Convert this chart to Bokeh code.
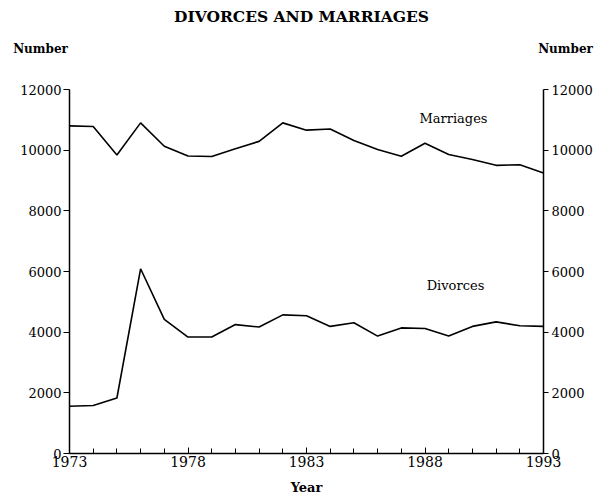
from bokeh.plotting import figure
from bokeh.models import Range1d, LinearAxis, FixedTicker, Label
from bokeh.embed import file_html
from bokeh.resources import INLINE

years = list(range(1973, 1994))
marriages = [10800, 10780, 9840, 10900, 10130, 9810, 9790, 10050, 10290, 10900,
             10660, 10700, 10320, 10020, 9800, 10230, 9860, 9690, 9500, 9520, 9250]
divorces = [1560, 1580, 1830, 6090, 4420, 3840, 3840, 4250, 4170, 4570,
            4540, 4190, 4310, 3870, 4140, 4120, 3870, 4190, 4340, 4210, 4190]
x_major = [1973, 1978, 1983, 1988, 1993]
y_major = [0, 2000, 4000, 6000, 8000, 10000, 12000]

FONT = "DejaVu Serif"
W, H = 595, 495
# pixel positions of the data box corners
PX0, PX1 = 69, 543      # x of 1973, 1993
PY0, PY1 = 453, 89      # y of 0, 12000

xs = (PX1 - PX0) / (x_major[-1] - x_major[0])
ys = (PY0 - PY1) / (y_major[-1] - y_major[0])
x_start = x_major[0] - PX0 / xs
x_end = x_major[-1] + (W - PX1) / xs
y_start = y_major[0] - (H - PY0) / ys
y_end = y_major[-1] + PY1 / ys

def dx(px):
    return x_start + px / xs

def dy(py):
    return y_end - py / ys

p = figure(width=W, height=H, output_backend="svg", toolbar_location=None,
           x_range=Range1d(x_start, x_end), y_range=Range1d(y_start, y_end),
           min_border=0, x_axis_location=None, y_axis_location=None)
p.outline_line_color = None
p.grid.visible = False

p.line(years, marriages, line_color="black", line_width=1.6)
p.line(years, divorces, line_color="black", line_width=1.6)

def style(ax, size):
    ax.axis_line_width = 1.5
    ax.axis_line_color = "black"
    ax.major_tick_line_color = "black"
    ax.minor_tick_line_color = "black"
    ax.major_label_text_font = FONT
    ax.major_label_text_font_size = size
    ax.major_label_text_color = "black"

xa = LinearAxis(ticker=FixedTicker(ticks=x_major, minor_ticks=years),
                fixed_location=0, bounds=(x_major[0], x_major[-1]))
style(xa, "14px")
xa.major_tick_in = 6
xa.major_tick_out = 0
xa.minor_tick_in = 5
xa.minor_tick_out = 0
xa.major_label_standoff = 2
p.add_layout(xa, "below")

ya = LinearAxis(ticker=FixedTicker(ticks=y_major), fixed_location=x_major[0],
                bounds=(y_major[0], y_major[-1]))
style(ya, "13px")
ya.major_tick_in = 0
ya.major_tick_out = 6
ya.minor_tick_in = 0
ya.minor_tick_out = 0
ya.major_label_standoff = 2
p.add_layout(ya, "left")

ra = LinearAxis(ticker=FixedTicker(ticks=y_major), fixed_location=x_major[-1],
                bounds=(y_major[0], y_major[-1]))
style(ra, "13px")
ra.major_tick_in = 0
ra.major_tick_out = 5
ra.minor_tick_in = 0
ra.minor_tick_out = 0
ra.major_label_standoff = 3
p.add_layout(ra, "right")

def lab(px, py, text, size, bold=False):
    p.add_layout(Label(x=dx(px), y=dy(py), text=text,
                       text_font=FONT, text_font_size=size,
                       text_font_style="bold" if bold else "normal",
                       text_align="center", text_baseline="middle",
                       text_color="black"))

lab(301, 16, "DIVORCES AND MARRIAGES", "15.5px", True)
lab(40, 48, "Number", "12px", True)
lab(565, 48, "Number", "12px", True)
lab(306, 487, "Year", "13px", True)
lab(453, 118, "Marriages", "13px")
lab(455, 285, "Divorces", "13px")

open("out.html", "w").write(file_html(p, INLINE))
